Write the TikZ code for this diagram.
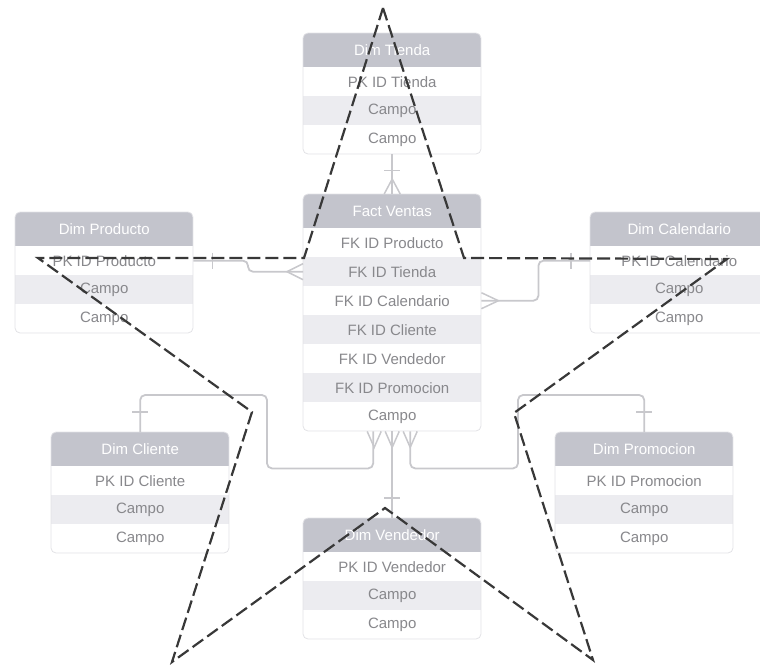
\documentclass[tikz,border=0pt]{standalone}
\usepackage{fontspec}
\setmainfont{Liberation Sans}
\usetikzlibrary{calc}
\definecolor{hdrgray}{HTML}{C3C4CC}
\definecolor{rowgray}{HTML}{ECECF0}
\definecolor{txtgray}{HTML}{88888C}
\definecolor{lnkgray}{HTML}{C8C8CC}
\definecolor{framegray}{HTML}{E2E2E6}
\definecolor{stargray}{HTML}{383838}

% \ertab{name}{x}{y}{rows}{title}{row texts}
\newcommand{\ertab}[6]{%
  \begin{scope}
    \clip[rounded corners=5pt] (#2,#3) rectangle ++(178,{34+29*#4});
    \node[hdr] (#1-h) at (#2,#3) {#5};
    \foreach \txt [count=\i] in {#6} {
      \pgfmathtruncatemacro\odd{mod(\i,2)}
      \ifnum\odd=1 \def\rc{white}\else\def\rc{rowgray}\fi
      \node[rowbox, fill=\rc] (#1-\i) at (#2,{#3+34+29*(\i-1)}) {\txt};
    }
  \end{scope}
  \draw[framegray, line width=0.8pt, rounded corners=5pt] (#2,#3) rectangle ++(178,{34+29*#4});
}

\begin{document}
\begin{tikzpicture}[x=1pt,y=-1pt,
  hdr/.style={fill=hdrgray, text=white, minimum width=178pt, minimum height=34pt,
    inner sep=0pt, anchor=north west, font=\fontsize{15}{18}\selectfont},
  rowbox/.style={text=txtgray, minimum width=178pt, minimum height=29pt,
    inner sep=0pt, anchor=north west, font=\fontsize{15}{18}\selectfont},
  link/.style={draw=lnkgray, line width=1.8pt, rounded corners=5pt},
  foot/.style={draw=lnkgray, line width=1.5pt},
  star/.style={draw=stargray, line width=2.2pt, dash pattern=on 13pt off 5pt, line join=miter}
]
\useasboundingbox (0,0) rectangle (760,669);
\clip (0,0) rectangle (760,669);

% tables
\ertab{tienda}{303}{33}{3}{Dim Tienda}{PK ID Tienda,Campo,Campo}
\ertab{fact}{303}{194}{7}{Fact Ventas}{FK ID Producto,FK ID Tienda,FK ID Calendario,FK ID Cliente,FK ID Vendedor,FK ID Promocion,Campo}
\ertab{producto}{15}{212}{3}{Dim Producto}{PK ID Producto,Campo,Campo}
\ertab{calendario}{590}{212}{3}{Dim Calendario}{PK ID Calendario,Campo,Campo}
\ertab{cliente}{51}{432}{3}{Dim Cliente}{PK ID Cliente,Campo,Campo}
\ertab{promocion}{555}{432}{3}{Dim Promocion}{PK ID Promocion,Campo,Campo}
\ertab{vendedor}{303}{518}{3}{Dim Vendedor}{PK ID Vendedor,Campo,Campo}

% relationships
\draw[link] (tienda-3.south) -- (fact-h.north);
\draw[foot] ($(tienda-3.south)+(-8,16)$) -- ++(16,0);
\draw[foot] ($(fact-h.north)+(-8,0)$) -- ($(fact-h.north)+(0,-15)$) -- ($(fact-h.north)+(8,0)$);

\draw[link] (producto-1.east) -| ($(fact-2.west)+(-55,0)$) -- (fact-2.west);
\draw[foot] ($(producto-1.east)+(19,-8)$) -- ++(0,16);
\draw[foot] ($(fact-2.west)+(0,-8)$) -- ($(fact-2.west)+(-16,0)$) -- ($(fact-2.west)+(0,8)$);

\draw[link] (calendario-1.west) -| ($(fact-3.east)+(57,0)$) -- (fact-3.east);
\draw[foot] ($(calendario-1.west)+(-19,-8)$) -- ++(0,16);
\draw[foot] ($(fact-3.east)+(0,-8)$) -- ($(fact-3.east)+(17,0)$) -- ($(fact-3.east)+(0,8)$);

\draw[link] (cliente-h.north) |- (267,395) |- ($(fact-7.south)+(-19,37)$) -- ($(fact-7.south)+(-19,0)$);
\draw[foot] ($(cliente-h.north)+(-8,-20)$) -- ++(16,0);

\draw[link] (promocion-h.north) |- (518,395) |- ($(fact-7.south)+(18,37)$) -- ($(fact-7.south)+(18,0)$);
\draw[foot] ($(promocion-h.north)+(-8,-20)$) -- ++(16,0);

\draw[link] (fact-7.south) -- (vendedor-h.north);
\draw[foot] ($(vendedor-h.north)+(-8,-20)$) -- ++(16,0);

\foreach \dx in {-18,0,18} {
  \draw[foot] ($(fact-7.south)+(\dx-7,0)$) -- ($(fact-7.south)+(\dx,16)$) -- ($(fact-7.south)+(\dx+7,0)$);
}

% dashed star
\draw[star] (383,8) -- (464,258) -- (727,259) -- (514,413) -- (593,660)
  -- (385,508) -- (172,662) -- (252,412) -- (38,258) -- (304,258) -- cycle;
\end{tikzpicture}
\end{document}
